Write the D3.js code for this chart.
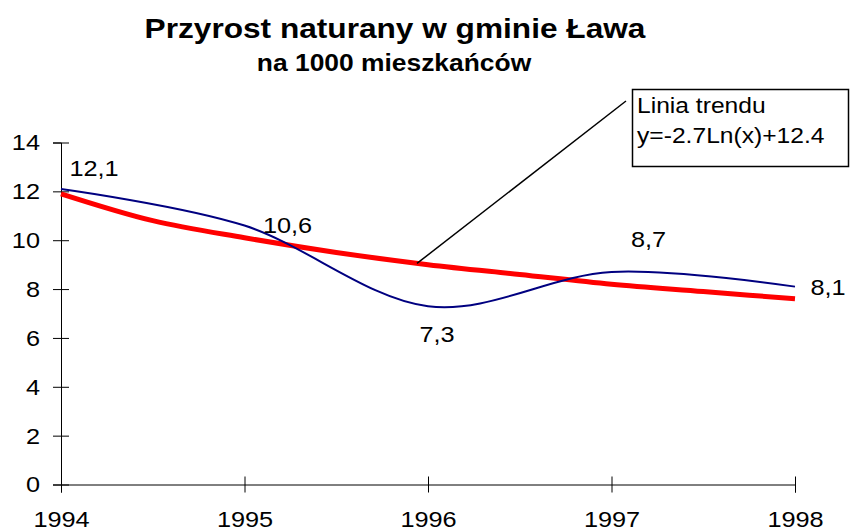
<!DOCTYPE html>
<html>
<head>
<meta charset="utf-8">
<script src="https://cdn.jsdelivr.net/npm/d3@7"></script>
<style>
  body { margin: 0; background: #fff; }
  svg { display: block; font-family: "Liberation Sans", Arial, sans-serif; }
</style>
</head>
<body>
<div id="chart"></div>
<script>
// data
const years = [1994, 1995, 1996, 1997, 1998]
const values = [12.1, 10.6, 7.3, 8.7, 8.1]
const valueLabels = ['12,1', '10,6', '7,3', '8,7', '8,1']

const trendYears = [1994, 1994.5, 1995, 1995.5, 1996, 1996.5, 1997, 1997.5, 1998]
const trendValues = [11.9, 10.8, 10.1, 9.5, 9.0, 8.6, 8.2, 7.9, 7.6]

const yTicks = [0, 2, 4, 6, 8, 10, 12, 14]
const xTicks = years

const title = 'Przyrost naturany w gminie Ława'
const subtitle = 'na 1000 mieszkańców'
const trendText = ['Linia trendu', 'y=-2.7Ln(x)+12.4']

// layout
const w = 851
const h = 531
const sx = 1.15   // text in the original is a bit stretched sideways
const labelOffsets = [[33, -13], [43, 7], [9, 36], [37, -25], [33, 8]]

const xScale = d3.scaleLinear()
                .domain([1994, 1998])
                .range([61, 795])

const yScale = d3.scaleLinear()
                .domain([0, 14])
                .range([484.5, 142.5])

const svg = d3.select('#chart')
            .append('svg')
            .attr('width', w)
            .attr('height', h)

function putText(sel, x, y, s = sx) {
  sel.attr('transform', `translate(${x},${y}) scale(${s},1)`)
}

// titles
svg.append('text')
    .attr('text-anchor', 'middle')
    .attr('font-weight', 'bold')
    .attr('font-size', 28)
    .text(title)
    .call(putText, 395, 38, 1.13)

svg.append('text')
    .attr('text-anchor', 'middle')
    .attr('font-weight', 'bold')
    .attr('font-size', 24)
    .text(subtitle)
    .call(putText, 394, 71, 1.1)

// axes
const yAxis = d3.axisLeft(yScale).tickValues(yTicks).tickSizeOuter(0).tickSize(8)
const xAxis = d3.axisBottom(xScale).tickValues(xTicks).tickSizeOuter(0).tickSize(8)

const gy = svg.append('g')
    .attr('transform', `translate(${xScale(1994)}, 0)`)
    .call(yAxis)

gy.selectAll('.tick line').attr('x1', -8).attr('x2', 8)
gy.selectAll('.tick text')
    .attr('x', null).attr('dy', null)
    .attr('font-size', 22)
    .attr('font-family', null)
    .attr('fill', '#000')
    .attr('dominant-baseline', 'central')
    .call(putText, -21, 0)

const gx = svg.append('g')
    .attr('transform', `translate(0, ${yScale(0)})`)
    .call(xAxis)

gx.selectAll('.tick line').attr('y1', -8).attr('y2', 8)
gx.selectAll('.tick text')
    .attr('y', null).attr('dy', null)
    .attr('font-size', 22)
    .attr('font-family', null)
    .attr('fill', '#000')
    .text(d => d)
    .call(putText, 0, 42)

svg.selectAll('.domain, .tick line').attr('stroke', '#000').attr('stroke-width', 1)

// lines
const line = d3.line()
              .x(d => xScale(d[0]))
              .y(d => yScale(d[1]))

svg.append('path')
    .datum(d3.zip(trendYears, trendValues))
    .attr('d', line.curve(d3.curveMonotoneX))
    .attr('fill', 'none')
    .attr('stroke', '#ff0000')
    .attr('stroke-width', 5)

svg.append('path')
    .datum(d3.zip(years, values))
    .attr('d', line.curve(d3.curveCardinal.tension(0)))
    .attr('fill', 'none')
    .attr('stroke', '#000080')
    .attr('stroke-width', 2)

// data labels
svg.selectAll('.vlabel')
    .data(d3.zip(years, values, valueLabels, labelOffsets))
    .enter()
    .append('text')
    .attr('class', 'vlabel')
    .attr('text-anchor', 'middle')
    .attr('font-size', 22)
    .text(d => d[2])
    .each(function (d) {
      d3.select(this).call(putText, xScale(d[0]) + d[3][0], yScale(d[1]) + d[3][1])
    })

// trend callout
svg.append('line')
    .attr('x1', xScale(1995.94))
    .attr('y1', yScale(9.05))
    .attr('x2', 626)
    .attr('y2', 101)
    .attr('stroke', '#000')
    .attr('stroke-width', 1.5)

svg.append('rect')
    .attr('x', 632.5)
    .attr('y', 89.5)
    .attr('width', 216)
    .attr('height', 77)
    .attr('fill', '#fff')
    .attr('stroke', '#000')
    .attr('stroke-width', 1.5)

svg.selectAll('.tlabel')
    .data(trendText)
    .enter()
    .append('text')
    .attr('class', 'tlabel')
    .attr('font-size', 22)
    .text(d => d)
    .each(function (d, i) {
      d3.select(this).call(putText, 637, 113 + i * 30, 1.12)
    })
</script>
</body>
</html>
